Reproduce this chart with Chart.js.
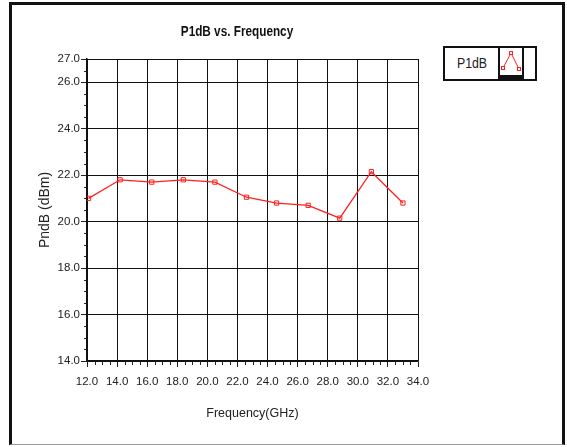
<!DOCTYPE html>
<html>
<head>
<meta charset="utf-8">
<script src="https://cdn.jsdelivr.net/npm/chart.js@4/dist/chart.umd.min.js"></script>
<style>
  html, body { margin:0; padding:0; background:#fff; width:567px; height:447px; overflow:hidden; }
  #frame { position:absolute; left:9px; top:2px; width:550px; height:439px; border-left:3px solid #111; border-right:3px solid #111; border-top:3px solid #111; border-bottom:1px solid #999; box-sizing:content-box; }
  #c { position:absolute; left:0; top:0; }
  #title { position:absolute; left:137px; width:200px; top:23px; text-align:center; font:bold 14px "Liberation Sans", sans-serif; color:#111; transform:scaleX(0.84); transform-origin:center; }
  #legend { position:absolute; left:443px; top:46px; width:90px; height:31px; border:2px solid #111; background:#fff; }
  #legend .lbl { position:absolute; left:0; top:0; width:54px; height:31px; text-align:center; font:14px "Liberation Sans", sans-serif; line-height:31px; color:#222; transform:scaleX(0.88); }
  #legend .icon { position:absolute; left:53px; top:0; width:22px; height:27px; border-left:2px solid #111; border-right:2px solid #111; border-bottom:4px solid #111; background:#fff; }
</style>
</head>
<body>
<div id="frame"></div>
<canvas id="c" width="567" height="447"></canvas>
<div id="title">P1dB vs. Frequency</div>
<div id="legend">
  <div class="lbl">P1dB</div>
  <div class="icon">
    <svg width="22" height="27" viewBox="0 0 22 27">
      <polyline points="3,20 11,5 19,21" fill="none" stroke="#ff2020" stroke-width="1"/>
      <rect x="1.5" y="18.5" width="3" height="3" fill="#fff" stroke="#ff2020" stroke-width="1"/>
      <rect x="9.5" y="3.5" width="3" height="3" fill="#fff" stroke="#ff2020" stroke-width="1"/>
      <rect x="17.5" y="19.5" width="3" height="3" fill="#fff" stroke="#ff2020" stroke-width="1"/>
    </svg>
  </div>
</div>
<script>
const frequencies = [12.1, 14.2, 16.3, 18.4, 20.5, 22.6, 24.6, 26.7, 28.8, 30.9, 33.0];
const p1dbValues  = [21.0, 21.8, 21.7, 21.8, 21.7, 21.05, 20.8, 20.7, 20.15, 22.15, 20.8];
const xTickValues = [12, 14, 16, 18, 20, 22, 24, 26, 28, 30, 32, 34];
const yTickValues = [14, 16, 18, 20, 22, 24, 26, 27];
const xMinorStep = 0.5;
const yMinorStep = 0.5;

const points = frequencies.map((f, i) => ({ x: f, y: p1dbValues[i] }));

const tickFont = { family: '"Liberation Sans", sans-serif', size: 11.5 };
const xTitleFont = { family: '"Liberation Sans", sans-serif', size: 12.5 };
const yTitleFont = { family: '"Liberation Sans", sans-serif', size: 14 };

const minorTicks = {
  id: 'minorTicks',
  afterDraw(chart) {
    const ctx = chart.ctx;
    const xs = chart.scales.x, ys = chart.scales.y;
    ctx.save();
    ctx.strokeStyle = '#222';
    ctx.lineWidth = 1;
    ctx.beginPath();
    for (let v = ys.min; v <= ys.max + 1e-9; v += yMinorStep) {
      if (yTickValues.some(t => Math.abs(t - v) < 1e-9)) continue;
      const py = Math.round(ys.getPixelForValue(v)) + 0.5;
      ctx.moveTo(xs.left - 3, py);
      ctx.lineTo(xs.left, py);
    }
    for (let v = xs.min; v <= xs.max + 1e-9; v += xMinorStep) {
      if (xTickValues.some(t => Math.abs(t - v) < 1e-9)) continue;
      const px = Math.round(xs.getPixelForValue(v)) + 0.5;
      ctx.moveTo(px, ys.bottom);
      ctx.lineTo(px, ys.bottom + 4);
    }
    ctx.stroke();
    ctx.restore();
  }
};

new Chart(document.getElementById('c'), {
  type: 'scatter',
  data: {
    datasets: [{
      label: 'P1dB',
      data: points,
      showLine: true,
      borderColor: '#ff2020',
      backgroundColor: '#ffffff',
      borderWidth: 1.3,
      pointStyle: 'rect',
      pointRadius: 3,
      pointBorderWidth: 1,
      pointBorderColor: '#ff2020',
      pointBackgroundColor: 'rgba(255,255,255,0)'
    }]
  },
  options: {
    responsive: false,
    animation: false,
    devicePixelRatio: 1,
    layout: { padding: { left: 0, top: 59, right: 149, bottom: 0 } },
    plugins: { legend: { display: false }, title: { display: false }, tooltip: { enabled: false } },
    scales: {
      x: {
        type: 'linear', min: 12, max: 34,
        afterBuildTicks: s => { s.ticks = xTickValues.map(v => ({ value: v })); },
        afterFit: s => { s.height = 86; },
        ticks: { autoSkip: false, maxRotation: 0, padding: 8, color: '#222', font: tickFont, callback: v => Number(v).toFixed(1) },
        grid: { color: '#111', lineWidth: 1, tickLength: 6, tickColor: '#222' },
        border: { display: true, color: '#111', width: 1.5 },
        title: { display: true, text: 'Frequency(GHz)', color: '#222', font: xTitleFont, padding: { top: 0, bottom: 26 } }
      },
      y: {
        type: 'linear', min: 14, max: 27,
        afterBuildTicks: s => { s.ticks = yTickValues.map(v => ({ value: v })); },
        afterFit: s => { s.width = 87; },
        ticks: { autoSkip: false, padding: 1, color: '#222', font: tickFont, callback: v => Number(v).toFixed(1) },
        grid: { color: '#111', lineWidth: 1, tickLength: 6, tickColor: '#222' },
        border: { display: true, color: '#111', width: 1.5 },
        title: { display: true, text: 'PndB (dBm)', color: '#222', font: yTitleFont, padding: { top: 37, bottom: 0 } }
      }
    }
  },
  plugins: [minorTicks]
});
</script>
</body>
</html>
